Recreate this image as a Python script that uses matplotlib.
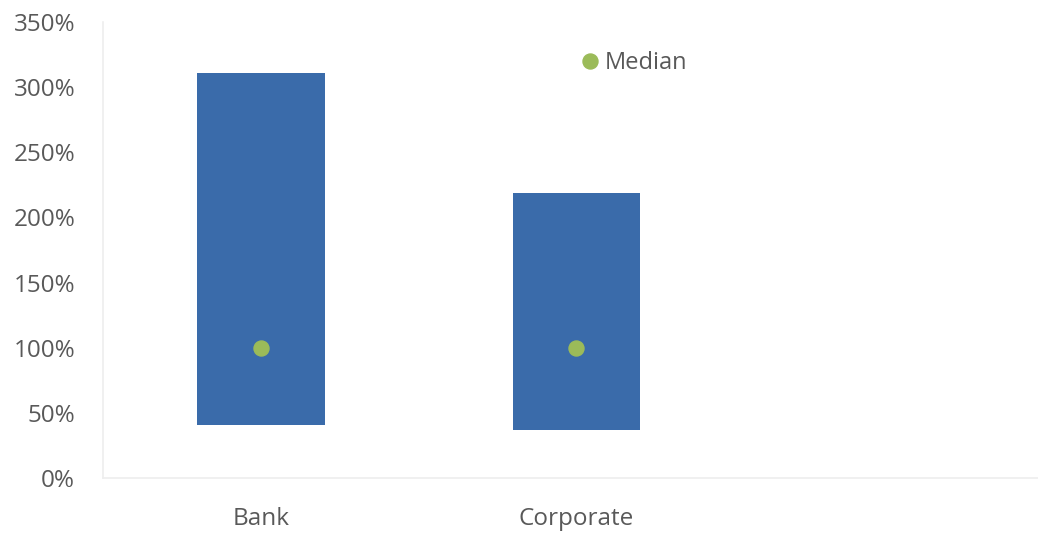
import matplotlib
matplotlib.use("Agg")
import matplotlib.pyplot as plt
from matplotlib.ticker import FuncFormatter

categories = ["Bank", "Corporate", ""]
low = [41, 36.5, None]
high = [311, 218.5, None]
median = [100, 100, None]

plt.rcParams['font.family'] = ['Open Sans', 'DejaVu Sans']

fig = plt.figure(figsize=(10.38, 5.33), dpi=100)
ax = fig.add_axes([103/1038, 55/533, 947/1038, 456/533])

xs = [i for i, v in enumerate(low) if v is not None]
lows = [low[i] for i in xs]
heights = [high[i] - low[i] for i in xs]
ax.bar(xs, heights, bottom=lows, width=0.405, color="#3A6BAA", zorder=2)
ax.plot(xs, [median[i] for i in xs], 'o', color="#9BBB59", markersize=10.8,
        linestyle='none', zorder=3, label="Median")

ax.set_xlim(-0.5, 2.5)
ax.set_ylim(0, 350)
ax.set_yticks(range(0, 351, 50))
ax.yaxis.set_major_formatter(FuncFormatter(lambda v, p: f"{int(v)}%"))
ax.set_xticks(range(len(categories)))
ax.set_xticklabels(categories)

for s in ['top', 'right']:
    ax.spines[s].set_visible(False)
for s in ['left', 'bottom']:
    ax.spines[s].set_color("#EEEEEE")
    ax.spines[s].set_linewidth(1.2)
ax.tick_params(axis='both', length=0, labelsize=17.5, labelcolor="#595959")
ax.tick_params(axis='x', pad=21)
ax.tick_params(axis='y', pad=20)

ax.legend(loc='upper left', bbox_to_anchor=(0.4845, 0.973), frameon=False,
          fontsize=17, labelcolor="#595959", handletextpad=0.12,
          handlelength=1.0, borderpad=0.2)

fig.savefig("out.png", dpi=100)
